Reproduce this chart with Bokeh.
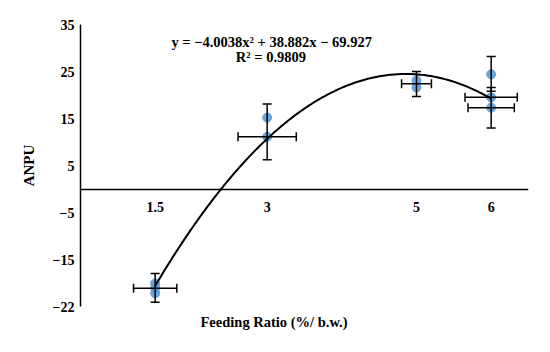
from bokeh.plotting import figure
from bokeh.models import Whisker, ColumnDataSource, Label, FixedTicker, Range1d, TeeHead, Title
from bokeh.embed import file_html
from bokeh.resources import INLINE
import numpy as np

# ---- data ----
point_x = [1.5, 1.5, 1.5, 3, 3, 5, 5, 6, 6, 6]
point_y = [-20.1, -21.1, -22.2, 15.2, 11.1, 23.1, 21.6, 24.4, 19.5, 17.3]

vbar_x = [1.5, 3, 5, 6, 6]
vbar_lower = [-24.1, 6.2, 19.7, 20.8, 13.0]
vbar_upper = [-18.0, 18.1, 25.0, 28.2, 21.6]

hbar_x = [1.5, 3, 5, 6, 6]
hbar_y = [-21.1, 11.1, 22.4, 19.5, 17.3]
hbar_err = [0.29, 0.39, 0.2, 0.35, 0.31]

fit_coef = [-4.0038, 38.882, -69.927]
fit_span = [1.5, 6]
equation_text = "y = \u22124.0038x\u00b2 + 38.882x \u2212 69.927"
r2_text = "R\u00b2 = 0.9809"

x_ticks = [1.5, 3, 5, 6]
x_tick_labels = ["1.5", "3", "5", "6"]
y_ticks = [-25, -15, -5, 5, 15, 25, 35]
y_tick_labels = ["\u221222", "\u221215", "\u22125", "5", "15", "25", "35"]

x_title = "Feeding Ratio (%/ b.w.)"
y_title = "ANPU"

FONT = "Liberation Serif"

p = figure(width=534, height=336, output_backend="svg", toolbar_location=None,
           x_range=Range1d(0.5, 6.5), y_range=Range1d(-25, 35),
           min_border_left=80, min_border_right=6, min_border_top=24,
           min_border_bottom=30)
p.xgrid.visible = False
p.ygrid.visible = False
p.outline_line_color = None
p.background_fill_color = "white"
p.border_fill_color = "white"

# x axis crossing at y = 0
xa = p.xaxis[0]
xa.fixed_location = 0
xa.ticker = FixedTicker(ticks=x_ticks)
xa.major_label_overrides = dict(zip(x_ticks, x_tick_labels))
xa.major_tick_line_color = None
xa.minor_tick_line_color = None
xa.axis_line_color = "black"
xa.axis_line_width = 1.5
xa.major_label_text_font = FONT
xa.major_label_text_font_style = "bold"
xa.major_label_text_font_size = "14px"
xa.major_label_text_color = "black"
xa.major_label_standoff = 7

ya = p.yaxis[0]
ya.ticker = FixedTicker(ticks=y_ticks)
ya.major_label_overrides = dict(zip(y_ticks, y_tick_labels))
ya.major_tick_line_color = None
ya.minor_tick_line_color = None
ya.axis_line_color = "black"
ya.axis_line_width = 1.5
ya.major_label_text_font = FONT
ya.major_label_text_font_style = "bold"
ya.major_label_text_font_size = "14px"
ya.major_label_text_color = "black"
ya.major_label_standoff = 0
ya.axis_label = y_title
ya.axis_label_text_font = FONT
ya.axis_label_text_font_style = "bold"
ya.axis_label_text_font_size = "15px"
ya.axis_label_text_color = "black"
ya.axis_label_standoff = 13

# points
p.scatter(point_x, point_y, size=9, color="#5B9BD5", alpha=0.9)

# fitted curve
xs = np.linspace(fit_span[0], fit_span[1], 200)
ys = np.polyval(fit_coef, xs)
p.line(xs, ys, line_color="black", line_width=2)

# vertical error bars
vsrc = ColumnDataSource(dict(x=vbar_x, lower=vbar_lower, upper=vbar_upper))
vw = Whisker(base="x", lower="lower", upper="upper", dimension="height", source=vsrc,
             line_color="black", line_width=1.5, level="overlay",
             upper_head=TeeHead(size=9, line_color="black", line_width=1.5),
             lower_head=TeeHead(size=9, line_color="black", line_width=1.5))
p.add_layout(vw)

# horizontal error bars
hsrc = ColumnDataSource(dict(y=hbar_y,
                             lower=[x - e for x, e in zip(hbar_x, hbar_err)],
                             upper=[x + e for x, e in zip(hbar_x, hbar_err)]))
hw = Whisker(base="y", lower="lower", upper="upper", dimension="width", source=hsrc,
             line_color="black", line_width=1.5, level="overlay",
             upper_head=TeeHead(size=9, line_color="black", line_width=1.5),
             lower_head=TeeHead(size=9, line_color="black", line_width=1.5))
p.add_layout(hw)

# equation labels
p.add_layout(Label(x=3.06, y=31.3, text=equation_text, text_align="center",
                   text_baseline="middle", text_font=FONT, text_font_style="bold",
                   text_font_size="14.5px", text_color="black"))
p.add_layout(Label(x=3.05, y=28.0, text=r2_text, text_align="center",
                   text_baseline="middle", text_font=FONT, text_font_style="bold",
                   text_font_size="14.5px", text_color="black"))

# x axis title, placed below the plot area
p.add_layout(Title(text=x_title, align="left", offset=120, text_font=FONT,
                   text_font_style="bold", text_font_size="14.5px", text_color="black",
                   standoff=11), "below")

open("out.html", "w").write(file_html(p, INLINE))
